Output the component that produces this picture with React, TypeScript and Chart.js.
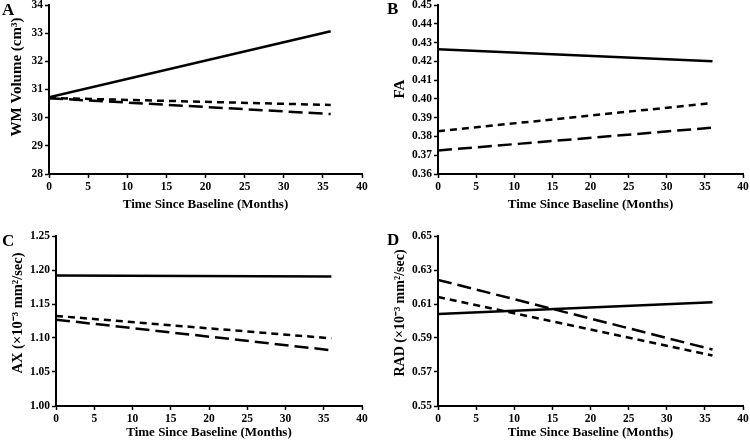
import React, { useEffect, useRef } from "react";
import { Chart, registerables } from "chart.js";

Chart.register(...registerables);

// ---- data ----
const months = [0, 36];

const wmSolid = [30.72, 33.07];
const wmShortDash = [30.7, 30.45];
const wmLongDash = [30.69, 30.13];

const faSolid = [0.4265, 0.42];
const faShortDash = [0.3828, 0.3978];
const faLongDash = [0.3725, 0.3847];

const axSolid = [1.192, 1.1905];
const axShortDash = [1.1325, 1.0995];
const axLongDash = [1.127, 1.082];

const radSolid = [0.6041, 0.6111];
const radShortDash = [0.6141, 0.5797];
const radLongDash = [0.6242, 0.5832];

const xTitle = "Time Since Baseline (Months)";
const xMin = 0;
const xMax = 40;
const xStep = 5;

type Panel = {
  letter: string;
  yTitle: string;
  yMin: number;
  yMax: number;
  yStep: number;
  decimals: number;
  solid: number[];
  shortDash: number[];
  longDash: number[];
  // layout
  x: number;
  y: number;
  w: number;
  h: number;
  area: { left: number; top: number; right: number; bottom: number };
  yTitlePos: { x: number; y: number; size: number };
  xTitlePad: number;
  letterPos: { left: number; top: number };
};

const panels: Panel[] = [
  {
    letter: "A",
    yTitle: "WM Volume (cm³)",
    yMin: 28,
    yMax: 34,
    yStep: 1,
    decimals: 0,
    solid: wmSolid,
    shortDash: wmShortDash,
    longDash: wmLongDash,
    x: 0,
    y: 0,
    w: 375,
    h: 221,
    area: { left: 49, top: 5, right: 362, bottom: 174 },
    yTitlePos: { x: 17, y: 77, size: 15 },
    xTitlePad: 9,
    letterPos: { left: 2, top: 1 },
  },
  {
    letter: "B",
    yTitle: "FA",
    yMin: 0.36,
    yMax: 0.45,
    yStep: 0.01,
    decimals: 2,
    solid: faSolid,
    shortDash: faShortDash,
    longDash: faLongDash,
    x: 375,
    y: 0,
    w: 375,
    h: 221,
    area: { left: 63, top: 5, right: 368, bottom: 174 },
    yTitlePos: { x: 25, y: 89, size: 15 },
    xTitlePad: 9,
    letterPos: { left: 12, top: 0 },
  },
  {
    letter: "C",
    yTitle: "AX (×10⁻³ mm²/sec)",
    yMin: 1.0,
    yMax: 1.25,
    yStep: 0.05,
    decimals: 2,
    solid: axSolid,
    shortDash: axShortDash,
    longDash: axLongDash,
    x: 0,
    y: 221,
    w: 375,
    h: 222,
    area: { left: 56, top: 15, right: 362, bottom: 185 },
    yTitlePos: { x: 18, y: 92, size: 14.5 },
    xTitlePad: 3,
    letterPos: { left: 2, top: 11 },
  },
  {
    letter: "D",
    yTitle: "RAD (×10⁻³ mm²/sec)",
    yMin: 0.55,
    yMax: 0.65,
    yStep: 0.02,
    decimals: 2,
    solid: radSolid,
    shortDash: radShortDash,
    longDash: radLongDash,
    x: 375,
    y: 221,
    w: 375,
    h: 222,
    area: { left: 63, top: 15, right: 368, bottom: 185 },
    yTitlePos: { x: 25.5, y: 92, size: 14 },
    xTitlePad: 3,
    letterPos: { left: 12, top: 10 },
  },
];

const FONT = "'Liberation Serif', 'Times New Roman', serif";

function toPoints(vals: number[]) {
  return months.map((m, i) => ({ x: m, y: vals[i] }));
}

const yTitlePlugin = {
  id: "yTitlePlugin",
  afterDraw(chart: any, _args: any, opts: any) {
    const { ctx } = chart;
    ctx.save();
    ctx.translate(opts.x, opts.y);
    ctx.rotate(-Math.PI / 2);
    ctx.font = `bold ${opts.size}px ${FONT}`;
    ctx.fillStyle = "#000";
    ctx.textAlign = "center";
    ctx.textBaseline = "middle";
    ctx.fillText(opts.text, 0, 0);
    ctx.restore();
  },
};

function PanelChart({ p }: { p: Panel }) {
  const ref = useRef<HTMLCanvasElement | null>(null);
  useEffect(() => {
    if (!ref.current) return;
    const lineBase = {
      borderColor: "#000",
      borderWidth: 2.5,
      pointRadius: 0,
      pointHoverRadius: 0,
      fill: false,
      tension: 0,
      borderCapStyle: "butt" as const,
    };
    const chart = new Chart(ref.current, {
      type: "line",
      data: {
        datasets: [
          { ...lineBase, label: "long", data: toPoints(p.longDash), borderDash: [14, 6] },
          { ...lineBase, label: "short", data: toPoints(p.shortDash), borderDash: [7, 5] },
          { ...lineBase, label: "solid", data: toPoints(p.solid) },
        ],
      },
      plugins: [yTitlePlugin],
      options: {
        responsive: false,
        animation: false,
        events: [],
        layout: {
          padding: {
            left: 0,
            top: p.area.top,
            right: p.w - p.area.right,
            bottom: 0,
          },
        },
        plugins: {
          legend: { display: false },
          tooltip: { enabled: false },
          title: { display: false },
          yTitlePlugin: {
            text: p.yTitle,
            x: p.yTitlePos.x,
            y: p.yTitlePos.y,
            size: p.yTitlePos.size,
          },
        } as any,
        scales: {
          x: {
            type: "linear",
            min: xMin,
            max: xMax,
            border: { display: true, color: "#000", width: 2 },
            grid: {
              display: true,
              drawOnChartArea: false,
              drawTicks: true,
              tickLength: 4,
              tickWidth: 1.5,
              tickColor: "#000",
            },
            ticks: {
              stepSize: xStep,
              color: "#000",
              padding: 2.5,
              maxRotation: 0,
              font: { family: FONT, size: 11.5, weight: "bold" },
            },
            title: {
              display: true,
              text: xTitle,
              color: "#000",
              padding: { top: 0, bottom: p.xTitlePad },
              font: { family: FONT, size: 13, weight: "bold" },
            },
            afterFit: (scale: any) => {
              scale.height = p.h - p.area.bottom;
              scale.paddingLeft = 0;
              scale.paddingRight = 0;
            },
          },
          y: {
            type: "linear",
            min: p.yMin,
            max: p.yMax,
            border: { display: true, color: "#000", width: 2 },
            grid: {
              display: true,
              drawOnChartArea: false,
              drawTicks: true,
              tickLength: 4,
              tickWidth: 1.5,
              tickColor: "#000",
            },
            ticks: {
              stepSize: p.yStep,
              color: "#000",
              padding: 2,
              font: { family: FONT, size: 11.5, weight: "bold" },
              callback: (v: any) => Number(v).toFixed(p.decimals),
            },
            title: { display: false },
            afterFit: (scale: any) => {
              scale.width = p.area.left;
              scale.paddingTop = 0;
              scale.paddingBottom = 0;
            },
          },
        },
      },
    });
    return () => chart.destroy();
  }, [p]);

  return (
    <div
      style={{
        position: "absolute",
        left: p.x,
        top: p.y,
        width: p.w,
        height: p.h,
      }}
    >
      <canvas ref={ref} width={p.w} height={p.h} style={{ display: "block" }} />
      <div
        style={{
          position: "absolute",
          left: p.letterPos.left,
          top: p.letterPos.top,
          fontFamily: FONT,
          fontWeight: "bold",
          fontSize: 17,
          lineHeight: "17px",
          color: "#000",
        }}
      >
        {p.letter}
      </div>
    </div>
  );
}

export default function App() {
  return (
    <div
      style={{
        position: "fixed",
        left: 0,
        top: 0,
        width: 750,
        height: 443,
        background: "#fff",
        overflow: "hidden",
      }}
    >
      {panels.map((p) => (
        <PanelChart key={p.letter} p={p} />
      ))}
    </div>
  );
}
